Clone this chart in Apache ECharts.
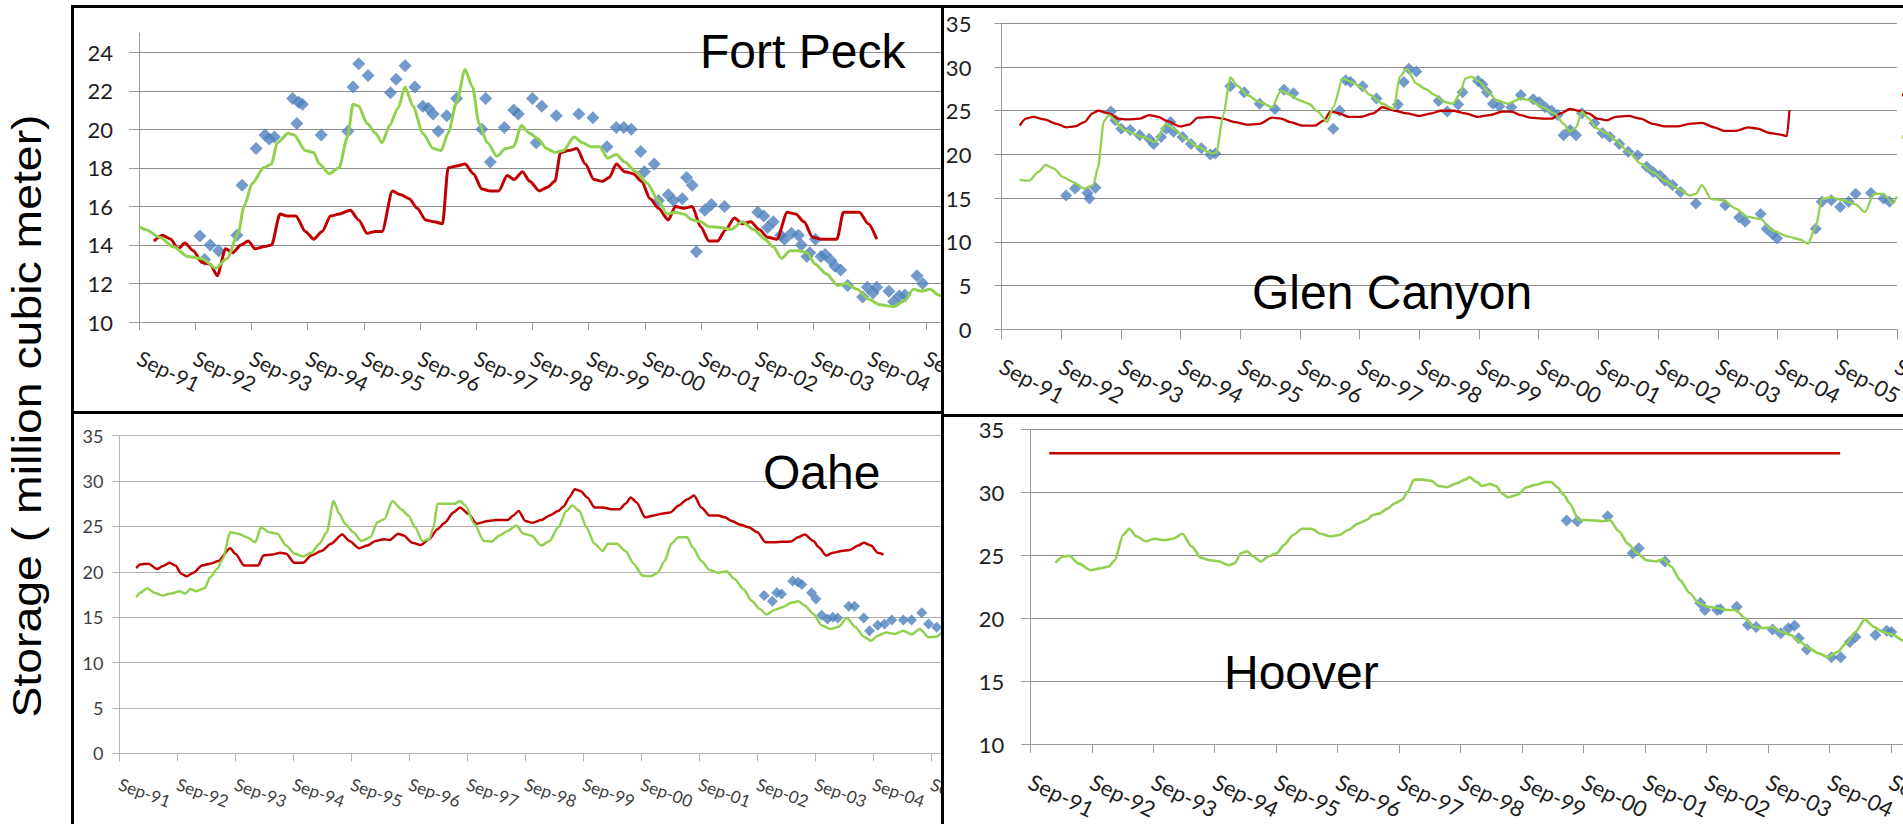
<!DOCTYPE html>
<html>
<head>
<meta charset="utf-8">
<title>Reservoir storage</title>
<script src="https://cdn.jsdelivr.net/npm/echarts@6/dist/echarts.min.js"></script>
<style>
  html, body { margin: 0; padding: 0; background: #fff; width: 1903px; height: 824px; overflow: hidden; }
  #frame { position: absolute; left: 0; top: 0; width: 1903px; height: 824px; }
  .clip { position: absolute; overflow: hidden; }
  .clip > div { position: absolute; left: 0; top: 0; }
</style>
</head>
<body>
<div id="frame"></div>
<div class="clip" style="left:74px;top:8px;width:867px;height:403px"><div id="fortPeck" style="width:920px;height:403px"></div></div>
<div class="clip" style="left:944px;top:8px;width:959px;height:406px"><div id="glenCanyon" style="width:959px;height:406px"></div></div>
<div class="clip" style="left:74px;top:414px;width:867px;height:410px"><div id="oahe" style="width:920px;height:410px"></div></div>
<div class="clip" style="left:944px;top:417px;width:959px;height:407px"><div id="hoover" style="width:1010px;height:407px"></div></div>
<script>
// x values are months counted from September 1991 (0 = Sep-91)
const tickLabels = ['Sep-91', 'Sep-92', 'Sep-93', 'Sep-94', 'Sep-95', 'Sep-96', 'Sep-97', 'Sep-98',
  'Sep-99', 'Sep-00', 'Sep-01', 'Sep-02', 'Sep-03', 'Sep-04', 'Sep-05', 'Sep-06'];
const seriesNames = ['Simulated', 'Observed', 'Satellite'];
const yAxisTitle = 'Storage ( million cubic meter)';

// ---- Fort Peck ----
const fortPeckSimulated = [[3.2,14.2],[5.0,14.5],[6.8,14.3],[8.3,13.8],[9.8,14.1],[11.6,13.7],[13.4,13.1],[15.2,13.0],[16.7,12.4],[18.5,13.8],[20.0,13.6],[21.8,14.0],[23.3,14.2],[24.8,13.8],[26.6,13.9],[28.3,14.0],[30.1,15.6],[31.7,15.5],[33.5,15.5],[35.5,14.7],[37.3,14.3],[39.1,14.7],[40.9,15.5],[42.7,15.6],[45.1,15.8],[46.9,15.3],[48.7,14.6],[50.5,14.7],[51.9,14.7],[54.1,16.8],[55.9,16.6],[57.7,16.4],[59.4,15.9],[61.2,15.3],[63.0,15.2],[64.8,15.1],[66.0,18.0],[67.8,18.1],[69.6,18.2],[71.4,17.7],[73.2,16.9],[75.0,16.8],[76.8,16.8],[78.6,17.6],[80.1,17.4],[81.9,17.8],[83.4,17.3],[85.5,16.8],[87.2,17.0],[88.8,17.3],[90.0,18.8],[91.7,18.9],[93.5,19.0],[95.3,18.2],[97.1,17.4],[98.9,17.3],[100.4,17.5],[101.9,18.2],[103.7,17.8],[105.5,17.7],[107.3,17.3],[109.1,16.4],[110.9,15.9],[113.0,15.3],[114.5,16.0],[116.3,15.9],[118.1,16.0],[119.9,14.95],[121.7,14.2],[123.5,14.2],[125.3,14.8],[127.1,15.4],[128.8,15.1],[130.6,15.2],[132.4,14.8],[134.2,14.4],[136.2,14.3],[138.4,15.7],[140.2,15.6],[142.0,15.2],[143.8,14.4],[145.6,14.3],[147.4,14.3],[149.0,14.3],[150.4,15.7],[152.2,15.7],[153.8,15.7],[155.7,15.1],[157.5,14.3]];
const fortPeckObserved = [[0,14.95],[1.4,14.8],[4.4,14.4],[7.4,13.9],[10.4,13.4],[13.4,13.3],[16.4,12.8],[18.8,13.3],[21.2,14.6],[22.4,16.0],[24.2,17.2],[26.6,18.0],[28.3,18.2],[29.5,19.3],[31.9,19.8],[33.1,19.7],[35.5,18.9],[37.3,18.8],[38.5,18.2],[40.6,17.7],[42.7,18.0],[44.5,19.6],[45.7,21.3],[46.9,21.2],[48.7,20.3],[50.5,19.8],[51.9,19.3],[53.5,20.2],[55.3,21.1],[56.8,22.2],[58.5,21.2],[60.6,19.8],[62.8,19.0],[64.5,18.9],[66.0,19.8],[67.8,21.4],[69.6,23.1],[71.2,22.2],[72.6,20.3],[74.4,19.3],[76.4,18.6],[78.3,19.0],[80.0,19.1],[81.6,20.2],[83.4,19.8],[85.2,19.5],[87.0,19.0],[88.8,18.8],[90.6,18.9],[92.9,19.6],[94.7,19.3],[96.5,19.1],[98.3,19.1],[100.1,18.5],[101.9,18.7],[103.7,18.3],[106.1,17.8],[108.5,17.2],[110.9,16.3],[112.7,15.6],[114.5,15.7],[116.3,15.6],[118.1,15.3],[119.9,15.2],[121.7,14.95],[124.1,14.9],[126.4,14.8],[128.8,15.2],[131.2,14.8],[133.6,14.3],[135.4,13.9],[137.2,13.3],[139.0,13.7],[140.8,13.7],[142.6,13.6],[144.4,13.0],[146.7,12.5],[149.2,11.9],[151.0,12.0],[153.3,11.7],[155.7,11.2],[158.1,10.9],[161.1,10.8],[163.5,11.1],[165.3,11.7],[167.1,11.6],[168.9,11.7],[170.7,11.4],[172.5,11.2]];
const fortPeckSatellite = [[13.0,14.47],[14.0,13.25],[15.2,14.0],[17.0,13.7],[20.9,14.5],[22.0,17.1],[25.0,19.0],[26.9,19.7],[27.8,19.5],[28.9,19.6],[32.8,21.6],[33.7,20.3],[34.1,21.4],[34.9,21.3],[38.9,19.7],[44.6,19.9],[45.7,22.2],[46.9,23.4],[48.9,22.8],[53.7,21.9],[54.9,22.6],[56.8,23.3],[58.9,22.2],[60.6,21.2],[61.8,21.1],[62.8,20.8],[63.9,19.9],[65.7,20.7],[67.8,21.6],[73.2,20.0],[74.0,21.6],[75.0,18.3],[78.0,20.1],[80.0,21.0],[81.0,20.8],[84.0,21.6],[84.8,19.3],[86.0,21.2],[89.1,20.7],[93.9,20.8],[96.9,20.6],[99.9,19.1],[101.9,20.1],[103.5,20.1],[105.1,20.0],[107.1,18.85],[107.9,17.8],[110.0,18.2],[110.9,16.3],[113.0,16.6],[114.1,16.3],[116.0,16.4],[116.9,17.5],[118.1,17.1],[119.0,13.65],[120.8,15.8],[122.2,16.1],[125.0,16.0],[132.1,15.7],[133.4,15.5],[134.2,14.9],[135.4,15.2],[137.0,14.5],[137.8,14.3],[139.3,14.6],[140.8,14.5],[141.4,14.0],[142.6,13.4],[143.2,13.6],[144.4,14.3],[145.6,13.4],[146.5,13.5],[147.7,13.2],[148.6,12.9],[149.8,12.7],[151.3,11.9],[154.5,11.3],[155.5,11.8],[156.7,11.5],[157.5,11.8],[160.1,11.6],[161.1,11.05],[162.3,11.35],[163.5,11.4],[166.1,12.4],[167.3,12.0]];

// ---- Glen Canyon ----
const glenSimulated = [[3.7,23.3],[4.9,24.1],[6.4,24.3],[8.6,24.0],[11.1,23.5],[13.0,23.1],[14.8,23.2],[16.7,23.7],[18.3,24.7],[19.5,25.0],[21.6,24.7],[23.5,24.1],[25.3,24.0],[27.8,24.1],[29.7,24.5],[31.5,24.3],[33.4,23.8],[35.8,23.2],[37.7,23.4],[39.5,24.2],[42.0,24.3],[44.5,24.1],[46.9,23.7],[49.4,23.4],[51.9,23.5],[54.4,24.2],[56.2,24.1],[58.1,23.7],[60.5,23.3],[63.0,23.3],[64.9,23.9],[66.1,24.9],[67.9,24.7],[69.8,24.3],[72.3,24.3],[74.7,24.7],[76.6,25.4],[79.1,25.0],[81.5,24.7],[84.0,24.4],[86.5,24.7],[88.3,25.0],[90.8,25.0],[93.3,24.7],[95.7,24.3],[98.2,24.5],[100.7,24.9],[102.5,24.9],[104.4,24.5],[106.3,24.2],[108.7,24.1],[110.6,24.1],[112.4,24.7],[114.3,25.2],[116.1,25.0],[118.0,24.7],[119.8,24.1],[121.7,23.9],[123.5,24.3],[126.0,24.4],[128.5,24.1],[130.9,23.5],[133.4,23.2],[135.9,23.2],[138.4,23.5],[140.8,23.6],[143.3,23.1],[145.2,22.7],[147.6,22.7],[150.1,23.1],[152.0,22.95],[154.4,22.45],[156.3,22.3],[157.9,22.1],[158.4,25.05]];
const glenObserved = [[3.7,17.1],[5.6,17.0],[7.4,18.0],[8.9,18.8],[10.5,18.4],[12.4,17.4],[14.2,16.9],[16.7,16.1],[18.5,16.5],[19.4,18.5],[20.6,23.8],[21.6,24.5],[24.7,22.8],[28.4,22.0],[30.9,21.4],[33.1,23.5],[34.6,22.95],[37.1,21.8],[39.5,20.85],[42.4,20.1],[43.2,20.2],[44.6,24.5],[46.0,28.8],[47.6,27.8],[49.4,26.8],[51.9,26.0],[54.4,25.4],[56.2,27.3],[58.1,26.8],[59.9,26.2],[61.8,25.8],[63.6,24.9],[65.5,23.7],[66.7,25.4],[68.6,28.7],[70.4,28.3],[72.3,27.7],[74.1,26.8],[76.6,25.8],[78.8,25.2],[80.1,28.9],[81.5,29.8],[83.4,28.1],[85.2,27.5],[87.1,26.8],[89.0,26.0],[90.8,25.8],[92.0,26.8],[93.3,28.7],[94.5,28.9],[96.1,28.3],[98.0,27.1],[99.5,26.2],[101.9,25.8],[104.4,26.4],[106.3,26.2],[108.7,25.4],[111.2,24.7],[113.0,23.5],[114.3,22.6],[115.5,23.1],[116.7,24.9],[118.0,24.1],[119.8,22.95],[121.7,22.4],[123.5,21.6],[126.0,20.3],[128.5,18.95],[130.9,18.0],[133.4,17.0],[135.9,16.1],[138.4,15.3],[139.6,15.5],[140.8,16.5],[142.7,14.9],[145.2,14.75],[147.6,13.8],[150.1,12.85],[152.6,12.6],[155.0,11.3],[158.2,10.6],[160.6,10.25],[162.1,9.8],[163.7,11.7],[164.9,14.9],[166.8,15.1],[169.3,14.75],[171.7,14.3],[173.6,13.4],[175.4,15.5],[177.2,15.5],[179.2,14.4],[180,15.2]];
const glenSatellite = [[13.0,15.3],[14.8,16.1],[17.3,15.6],[17.7,14.95],[18.9,16.2],[22.0,24.9],[22.9,23.9],[24.1,22.95],[25.9,22.8],[27.8,22.2],[29.7,21.8],[30.6,21.2],[32.1,22.0],[33.1,22.95],[34.0,23.7],[34.6,22.6],[36.4,22.0],[38.1,21.2],[40.2,20.7],[42.0,20.0],[43.0,20.1],[46.0,27.8],[48.8,27.1],[51.9,25.8],[55.0,25.2],[56.8,27.4],[58.7,27.0],[66.7,22.95],[68.0,25.0],[69.2,28.5],[70.2,28.3],[72.6,27.8],[75.4,26.4],[79.7,25.7],[80.9,28.3],[81.9,29.8],[83.4,29.5],[87.9,26.1],[89.6,24.9],[91.8,25.7],[92.7,27.1],[95.8,28.4],[96.7,28.0],[97.6,27.1],[98.8,25.8],[100.1,25.5],[102.5,25.4],[104.4,26.8],[106.9,26.3],[108.1,26.0],[109.3,25.4],[110.6,25.0],[111.8,24.5],[113.0,22.2],[114.3,22.8],[115.5,22.2],[116.7,24.7],[119.2,23.6],[120.8,22.45],[122.3,22.0],[124.2,21.2],[126.0,20.3],[127.9,19.9],[129.7,18.6],[131.0,18.0],[132.4,17.6],[133.4,17.0],[134.9,16.5],[136.5,15.7],[139.6,14.4],[145.5,14.2],[148.3,12.8],[149.5,12.3],[152.6,13.2],[153.8,11.5],[155.0,10.9],[155.9,10.4],[163.7,11.5],[164.9,14.6],[166.8,14.75],[168.6,14.0],[170.3,14.6],[171.7,15.5],[174.8,15.6],[177.3,14.95],[178.5,14.6],[180.1,14.1]];

// ---- Oahe ----
const oaheSimulated = [[3.5,20.4],[4.3,20.8],[6.0,20.9],[7.8,20.3],[8.9,20.6],[10.4,21.0],[11.6,20.7],[12.8,19.8],[13.9,19.5],[15.3,19.9],[17.1,20.7],[18.8,20.9],[20.5,21.2],[22.9,22.6],[24.0,22.0],[25.8,20.7],[27.5,20.7],[28.7,20.7],[29.8,21.8],[31.6,21.9],[33.3,22.1],[34.5,22.0],[36.2,21.0],[38.0,21.0],[39.7,21.8],[41.8,22.3],[43.8,23.1],[46.1,24.1],[47.6,23.4],[49.6,22.6],[51.3,22.9],[53.0,23.4],[54.8,23.6],[55.9,23.5],[57.7,24.2],[58.8,24.0],[60.6,23.2],[62.3,22.95],[64.1,23.6],[65.8,24.7],[67.3,25.4],[69.1,26.55],[70.5,27.1],[72.2,26.4],[73.9,25.3],[76.3,25.6],[78.0,25.7],[80.3,25.7],[81.5,26.2],[82.6,26.7],[84.0,25.6],[85.5,25.4],[87.3,25.7],[89.0,26.2],[90.8,26.7],[91.9,27.2],[93.1,28.2],[94.2,29.1],[95.4,28.9],[96.8,28.2],[98.3,27.1],[100.0,27.1],[101.8,26.9],[103.5,26.9],[104.7,27.5],[105.8,28.2],[107.0,27.65],[108.8,26.0],[110.5,26.2],[112.2,26.4],[114.0,26.55],[115.7,27.3],[117.5,28.0],[118.9,28.4],[120.4,27.1],[122.1,26.2],[123.9,26.2],[125.3,26.0],[126.7,25.6],[128.5,25.2],[130.2,24.9],[132.0,24.35],[133.7,23.25],[135.5,23.25],[137.2,23.3],[139.0,23.35],[140.4,23.8],[141.8,24.1],[143.6,23.4],[144.7,22.7],[146.2,21.8],[147.6,22.1],[149.4,22.3],[151.1,22.4],[152.9,22.9],[154.0,23.2],[155.5,22.9],[156.9,22.1],[158.1,21.9]];
const oaheObserved = [[3.5,17.2],[4.3,17.7],[5.8,18.2],[7.2,17.7],[8.9,17.4],[10.7,17.6],[12.4,17.85],[13.6,17.6],[14.7,18.1],[15.9,17.85],[17.6,18.2],[18.8,19.4],[20.2,20.3],[21.4,21.4],[22.9,24.35],[24.6,24.2],[26.4,23.8],[28.1,23.25],[29.3,24.9],[31.0,24.35],[32.7,24.2],[34.5,22.9],[36.2,22.0],[38.0,21.7],[39.7,22.1],[41.4,23.1],[42.9,24.35],[44.3,27.8],[45.5,26.4],[46.7,25.3],[48.4,24.35],[50.1,23.4],[51.9,23.8],[53.4,25.45],[54.8,25.8],[56.5,27.8],[58.3,26.9],[59.8,26.2],[61.2,24.9],[62.7,23.4],[64.1,23.6],[65.0,24.9],[65.8,27.5],[67.5,27.5],[69.3,27.5],[70.5,27.8],[71.6,27.3],[73.4,25.3],[75.4,23.4],[77.1,23.35],[78.6,24.0],[80.3,24.5],[82.1,25.1],[83.6,24.2],[85.2,24.0],[87.3,22.9],[89.0,23.4],[90.8,24.9],[92.5,26.7],[93.7,27.3],[95.2,26.7],[96.6,24.9],[98.3,23.1],[100.0,22.3],[101.1,23.1],[102.9,23.1],[104.7,22.3],[106.4,20.9],[108.2,19.6],[109.9,19.5],[111.4,19.9],[112.8,21.2],[114.2,23.1],[115.7,23.8],[117.5,23.8],[118.6,22.7],[120.4,21.2],[122.1,20.2],[123.9,19.9],[125.6,20.05],[127.3,19.2],[129.1,18.1],[130.8,16.8],[132.5,15.9],[133.9,15.3],[135.5,15.8],[137.2,16.1],[139.0,16.6],[140.4,16.75],[141.8,16.3],[143.6,15.35],[145.3,14.1],[147.1,13.7],[148.8,13.95],[150.5,14.9],[152.3,13.9],[154.0,12.85],[155.5,12.4],[156.9,12.95],[158.7,13.3],[160.4,13.15],[162.2,13.5],[163.9,13.1],[165.6,13.7],[167.4,12.8],[169.1,12.85],[170.3,13.3],[172.5,13.2]];
const oaheSatellite = [[133.4,17.4],[135.1,16.75],[136.0,17.7],[137.0,17.55],[139.3,19.0],[140.4,18.85],[141.2,18.6],[143.2,17.7],[144.1,17.0],[145.3,15.2],[146.5,14.8],[147.6,15.0],[148.6,14.9],[150.9,16.2],[152.1,16.2],[154.0,14.9],[155.2,13.5],[156.9,14.1],[158.3,14.25],[159.8,14.7],[162.2,14.7],[163.9,14.7],[166.0,15.5],[167.4,14.25],[169.1,13.9]];

// ---- Hoover ----
const hooverSimulated = [[3.7,33.1],[158.1,33.1]];
const hooverObserved = [[4.9,24.4],[6.4,24.9],[7.6,24.95],[9.4,24.35],[11.8,23.8],[13.6,23.95],[15.3,24.1],[16.5,24.6],[18.1,26.6],[19.3,27.1],[20.7,26.5],[22.5,26.1],[24.3,26.3],[26.1,26.2],[27.9,26.3],[29.7,26.7],[31.5,25.7],[33.3,24.8],[35.1,24.6],[36.9,24.5],[38.7,24.2],[39.9,24.35],[41.1,25.15],[42.3,25.3],[43.5,24.9],[45.0,24.5],[46.5,24.9],[48.1,25.15],[49.5,25.8],[51.3,26.6],[53.1,27.1],[54.9,27.1],[56.7,26.7],[58.5,26.5],[60.3,26.6],[62.1,27.0],[63.9,27.5],[65.7,27.8],[66.9,28.2],[68.1,28.3],[69.7,28.7],[71.1,29.1],[72.6,29.4],[73.7,30.05],[74.9,31.0],[76.5,31.0],[78.3,30.9],[79.7,30.5],[81.3,30.4],[83.1,30.7],[84.9,31.0],[85.7,31.2],[87.3,30.8],[88.1,30.5],[89.7,30.65],[90.9,30.5],[92.1,29.9],[93.3,29.6],[95.1,29.8],[96.9,30.4],[98.7,30.6],[100.5,30.8],[101.7,30.8],[102.9,30.4],[104.1,29.8],[105.3,29.1],[107.1,27.8],[108.3,27.8],[110.1,27.75],[111.9,27.7],[113.1,27.8],[114.9,26.9],[116.7,25.9],[118.5,25.15],[120.3,24.6],[122.1,24.5],[123.6,24.7],[125.1,24.1],[126.9,23.0],[128.7,22.0],[130.5,21.2],[132.3,20.9],[134.1,20.8],[135.9,20.65],[137.7,20.65],[139.5,20.0],[141.3,19.3],[143.1,19.2],[144.9,19.3],[146.7,18.9],[148.5,18.65],[150.3,18.1],[152.1,17.6],[153.9,17.2],[155.7,16.9],[157.5,17.3],[159.3,18.0],[161.1,18.9],[162.9,19.9],[164.7,19.3],[166.5,18.9],[168.3,18.7],[170.5,18.2],[172.5,18.0]];
const hooverSatellite = [[104.7,27.75],[106.8,27.7],[112.7,28.1],[117.6,25.15],[118.8,25.55],[123.9,24.5],[130.8,21.2],[131.7,20.65],[134.1,20.65],[134.7,20.7],[137.9,20.9],[140.1,19.45],[141.7,19.3],[144.9,19.1],[146.5,18.8],[148.0,19.2],[149.2,19.4],[150.0,18.4],[151.6,17.5],[156.4,16.9],[158.2,16.9],[160.0,18.1],[161.1,18.5],[165.0,18.65],[167.2,19.0],[168.1,18.9]];

const RED = '#C00000', GREEN = '#92D050', BLUE = '#4F81BD';
const LABEL_FONT = 'Lato, "Open Sans", sans-serif';
const TITLE_FONT = '"Liberation Sans", Arial, sans-serif';

function monthLabel(v) {
  return (v % 12 === 0 && tickLabels[v / 12]) ? tickLabels[v / 12] : '';
}

function panelOption(p) {
  const opt = {
    animation: false,
    grid: {
      left: p.grid[0], top: p.grid[1], width: p.grid[2], height: p.grid[3],
      containLabel: false, outerBoundsMode: 'none'
    },
    xAxis: {
      type: 'value', min: 0, max: p.xMax, interval: 12,
      axisLine: { show: true, onZero: false, lineStyle: { color: p.axisColor, width: 1 } },
      axisTick: { show: true, length: p.xTickLen, lineStyle: { color: p.axisColor } },
      splitLine: { show: false },
      axisLabel: {
        rotate: p.xRotate, margin: p.xMargin, fontFamily: LABEL_FONT, fontSize: p.xFont,
        color: p.labelColor, formatter: monthLabel, showMinLabel: true, hideOverlap: false
      }
    },
    yAxis: {
      type: 'value', min: p.yMin, max: p.yMax, interval: p.yStep,
      axisLine: { show: true, lineStyle: { color: p.axisColor, width: 1 } },
      axisTick: { show: true, length: p.yTickLen, lineStyle: { color: p.axisColor } },
      splitLine: { show: true, showMinLine: false, showMaxLine: p.maxLine, lineStyle: { color: p.gridColor, width: 1 } },
      axisLabel: { margin: p.yMargin, fontFamily: LABEL_FONT, fontSize: p.yFont, color: p.labelColor, showMinLabel: true, showMaxLabel: p.maxLine }
    },
    graphic: [{
      type: 'text', x: p.title[1], y: p.title[2], z: 10,
      style: { text: p.title[0], font: '48px ' + TITLE_FONT, fill: '#000', align: 'left', verticalAlign: 'middle' }
    }],
    series: [
      { name: seriesNames[0], type: 'line', data: p.red, showSymbol: false, symbol: 'none', smooth: 0.25, smoothMonotone: 'x',
        lineStyle: { color: RED, width: p.lineWidth }, itemStyle: { color: RED } },
      { name: seriesNames[1], type: 'line', data: p.green, showSymbol: false, symbol: 'none', smooth: 0.25, smoothMonotone: 'x',
        lineStyle: { color: GREEN, width: p.lineWidth }, itemStyle: { color: GREEN } },
      { name: seriesNames[2], type: 'scatter', data: p.blue, symbol: 'diamond', symbolSize: p.diamond,
        itemStyle: { color: BLUE } }
    ]
  };
  if (p.legend) {
    opt.legend = {
      orient: 'vertical', left: p.legend[0], top: p.legend[1], itemGap: 22,
      itemWidth: 30, itemHeight: 3,
      textStyle: { fontFamily: LABEL_FONT, fontSize: 20, lineHeight: 20, color: '#000' },
      data: [
        { name: seriesNames[0], icon: 'rect' },
        { name: seriesNames[1], icon: 'rect' },
        { name: seriesNames[2], icon: 'diamond' }
      ]
    };
  }
  return opt;
}

const panels = [
  { id: 'fortPeck', title: ['Fort Peck', 626, 43.4], grid: [65, 25, 815, 289], xMax: 174,
    yMin: 10, yMax: 25, yStep: 2, maxLine: false, xRotate: -26, xMargin: 34, xFont: 21, yFont: 22,
    yMargin: 26, xTickLen: 8, yTickLen: 10, axisColor: '#9a9a9a', gridColor: '#8c8c8c', labelColor: '#1e1e1e',
    lineWidth: 3, diamond: 13,
    red: fortPeckSimulated, green: fortPeckObserved, blue: fortPeckSatellite },
  { id: 'glenCanyon', title: ['Glen Canyon', 308, 284], grid: [57.4, 15.3, 895.5, 306], xMax: 180,
    yMin: 0, yMax: 35, yStep: 5, maxLine: true, xRotate: -28, xMargin: 35, xFont: 22, yFont: 22,
    yMargin: 30, xTickLen: 10, yTickLen: 7, axisColor: '#9a9a9a', gridColor: '#8c8c8c', labelColor: '#1e1e1e',
    lineWidth: 2.3, diamond: 12, legend: [953, 72],
    red: glenSimulated, green: glenObserved, blue: glenSatellite },
  { id: 'oahe', title: ['Oahe', 689, 58], grid: [45.4, 21.7, 841, 317.6], xMax: 174,
    yMin: 0, yMax: 35, yStep: 5, maxLine: true, xRotate: -20, xMargin: 30, xFont: 17, yFont: 18,
    yMargin: 16, xTickLen: 8, yTickLen: 7, axisColor: '#b4b4b4', gridColor: '#b0b0b0', labelColor: '#404040',
    lineWidth: 2.5, diamond: 11,
    red: oaheSimulated, green: oaheObserved, blue: oaheSatellite },
  { id: 'hoover', title: ['Hoover', 280, 255], grid: [86.3, 12.3, 891.3, 314.7], xMax: 174,
    yMin: 10, yMax: 35, yStep: 5, maxLine: true, xRotate: -26, xMargin: 36, xFont: 22, yFont: 22,
    yMargin: 26, xTickLen: 9, yTickLen: 9, axisColor: '#9a9a9a', gridColor: '#8c8c8c', labelColor: '#1e1e1e',
    lineWidth: 2.6, diamond: 12,
    red: hooverSimulated, green: hooverObserved, blue: hooverSatellite }
];

panels.forEach(function (p) {
  const chart = echarts.init(document.getElementById(p.id), null, { renderer: 'svg' });
  chart.setOption(panelOption(p));
});

// frame: panel borders and the shared vertical axis title
const frame = echarts.init(document.getElementById('frame'), null, { renderer: 'svg' });
frame.setOption({
  animation: false,
  graphic: [
    { type: 'rect', shape: { x: 71, y: 5, width: 1832, height: 3 }, style: { fill: '#000' } },
    { type: 'rect', shape: { x: 71, y: 5, width: 3, height: 819 }, style: { fill: '#000' } },
    { type: 'rect', shape: { x: 941, y: 5, width: 3, height: 819 }, style: { fill: '#000' } },
    { type: 'rect', shape: { x: 71, y: 411, width: 873, height: 3 }, style: { fill: '#000' } },
    { type: 'rect', shape: { x: 941, y: 414, width: 962, height: 3 }, style: { fill: '#000' } },
    { type: 'text', x: 27, y: 416, rotation: Math.PI / 2, scaleX: 1.16,
      style: { text: yAxisTitle, font: '40px ' + TITLE_FONT, fill: '#000', align: 'center', verticalAlign: 'middle' } }
  ]
});
</script>
</body>
</html>
